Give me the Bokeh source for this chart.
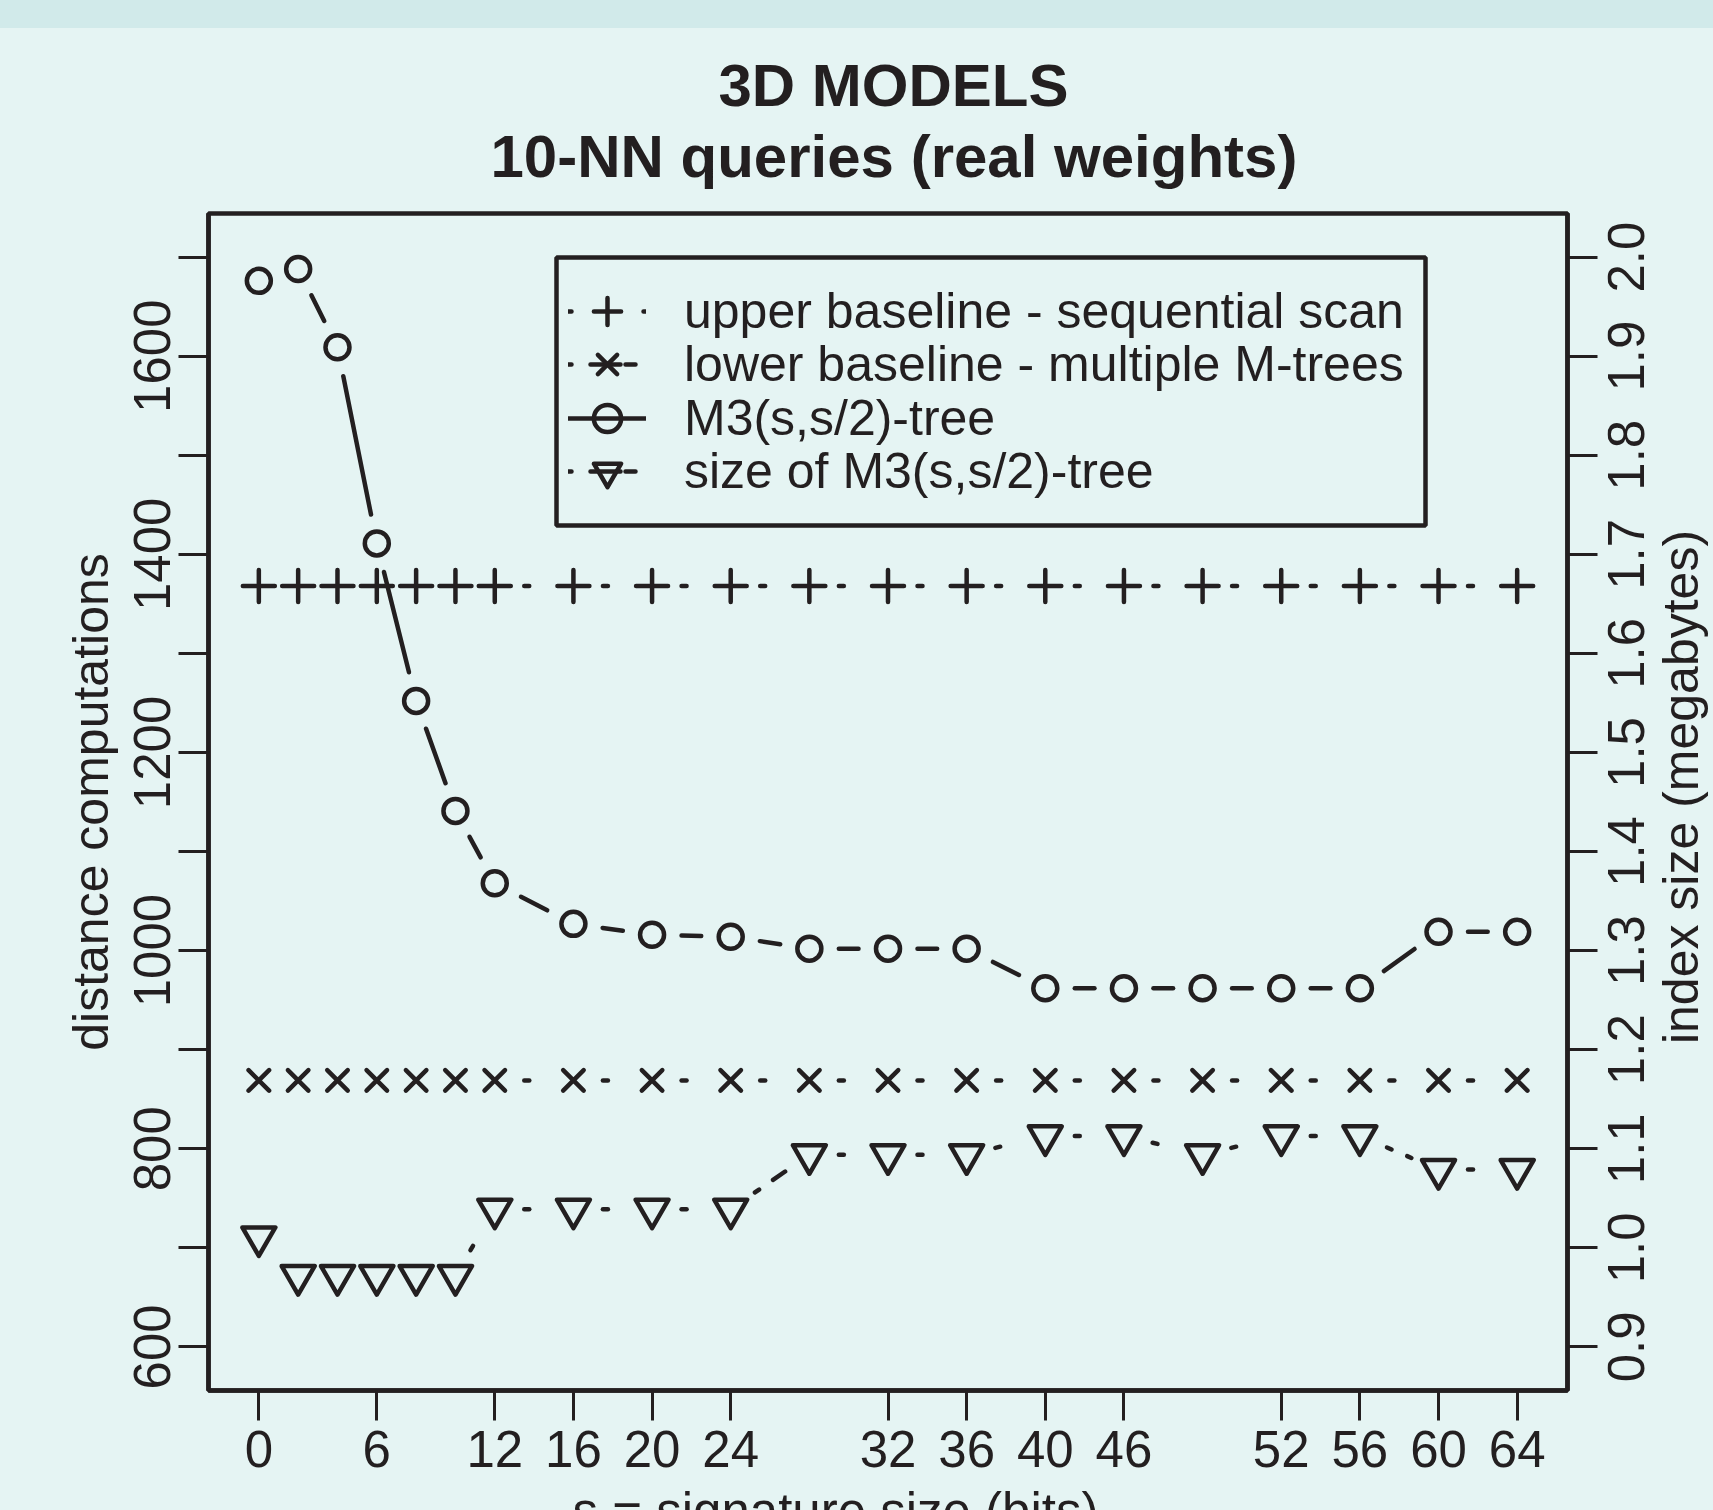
import math
from bokeh.plotting import figure
from bokeh.models import (Range1d, LinearAxis, FixedTicker, Legend, LegendItem, Title,
                          Div, ColumnDataSource, BoxAnnotation, CustomJSTickFormatter)
from bokeh.layouts import column, row
from bokeh.embed import file_html
from bokeh.resources import INLINE

# ---------------- data ----------------
s_bits = [0, 2, 4, 6, 8, 10, 12, 16, 20, 24, 28, 32, 36, 40, 44, 48, 52, 56, 60, 64]
upper_baseline = [1368, 1368, 1368, 1368, 1368, 1368, 1368, 1368, 1368, 1368,
                  1368, 1368, 1368, 1368, 1368, 1368, 1368, 1368, 1368, 1368]
lower_baseline = [869, 869, 869, 869, 869, 869, 869, 869, 869, 869,
                  869, 869, 869, 869, 869, 869, 869, 869, 869, 869]
m3_tree = [1676, 1688, 1609, 1411, 1252, 1141, 1068, 1027, 1016, 1014,
           1002, 1002, 1002, 962, 962, 962, 962, 962, 1019, 1019]
size_mb = [1.011, 0.972, 0.972, 0.972, 0.972, 0.972, 1.039, 1.039, 1.039, 1.039,
           1.094, 1.094, 1.094, 1.113, 1.113, 1.094, 1.113, 1.113, 1.079, 1.079]

x_ticks = [0, 6, 12, 16, 20, 24, 32, 36, 40, 44, 52, 56, 60, 64]
x_tick_labels = {44: "46"}
left_ticks = [600, 700, 800, 900, 1000, 1100, 1200, 1300, 1400, 1500, 1600, 1700]
left_labelled = [600, 800, 1000, 1200, 1400, 1600]
right_ticks = [0.9, 1.0, 1.1, 1.2, 1.3, 1.4, 1.5, 1.6, 1.7, 1.8, 1.9, 2.0]
right_tick_labels = ["0.9", "1.0", "1.1", "1.2", "1.3", "1.4", "1.5", "1.6", "1.7", "1.8", "1.9", "2.0"]

title_lines = ["3D MODELS", "10-NN queries (real weights)"]
x_title = "s = signature size (bits)"
y_title = "distance computations"
y2_title = "index size (megabytes)"
legend_labels = ["upper baseline - sequential scan",
                 "lower baseline - multiple M-trees",
                 "M3(s,s/2)-tree",
                 "size of M3(s,s/2)-tree"]

# ---------------- style ----------------
INK = "#231f20"
BG = "#e5f4f3"
BAND = "#d1eaea"
FONT = "Liberation Sans"
LW = 4.5
FS = "51px"

PAGE_W = 1713
BAND_H = 28
BOTTOM_H = 22
MAIN_H = 1510 - BAND_H - BOTTOM_H      # 1460
ML, MT, MB, MR = 208, 185, 98, 40
FRAME_W, FRAME_H = 1359, MAIN_H - MT - MB
MAIN_W = ML + FRAME_W + MR
STRIP_W = PAGE_W - MAIN_W

X0, X1 = -2.56, 66.56
Y0, Y1 = 556, 1744
R0, R1 = 0.856, 2.044

UX = FRAME_W / (X1 - X0)
UY = FRAME_H / (Y1 - Y0)
UR = FRAME_H / (R1 - R0)
GAP = 29.5  # px gap left around points (R type="b")


def broken(xs, ys, ux, uy, gap):
    out = dict(x0=[], y0=[], x1=[], y1=[])
    for xa, ya, xb, yb in zip(xs[:-1], ys[:-1], xs[1:], ys[1:]):
        d = math.hypot((xb - xa) * ux, (yb - ya) * uy)
        if d <= 0:
            continue
        f = gap / d
        if f < 0.5:
            out["x0"].append(xa + f * (xb - xa))
            out["y0"].append(ya + f * (yb - ya))
            out["x1"].append(xb - f * (xb - xa))
            out["y1"].append(yb - f * (yb - ya))
    return ColumnDataSource(out)


size_range = Range1d(R0, R1)

p = figure(width=MAIN_W, height=MAIN_H, output_backend="svg", toolbar_location=None,
           x_range=Range1d(X0, X1), y_range=Range1d(Y0, Y1),
           min_border_left=ML, min_border_right=MR, min_border_top=MT, min_border_bottom=MB,
           background_fill_color=BG, border_fill_color=BG)
p.extra_y_ranges = {"size": size_range}
p.xgrid.visible = False
p.ygrid.visible = False
p.outline_line_color = INK
p.outline_line_width = LW


def style_axis(ax, ticks):
    ax.ticker = FixedTicker(ticks=ticks)
    ax.minor_tick_line_color = None
    ax.major_tick_in = 0
    ax.major_tick_out = 30
    ax.major_tick_line_width = 3
    ax.major_tick_line_color = INK
    ax.axis_line_color = INK
    ax.axis_line_width = LW
    ax.major_label_text_font = FONT
    ax.major_label_text_font_size = FS
    ax.major_label_text_color = INK


xa = p.xaxis[0]
style_axis(xa, x_ticks)
xa.major_label_overrides = x_tick_labels
xa.major_label_standoff = 10

ya = p.yaxis[0]
style_axis(ya, left_ticks)
ya.major_label_overrides = {t: (str(t) if t in left_labelled else "") for t in left_ticks}
ya.major_label_orientation = "parallel"
ya.major_label_standoff = 8
ya.axis_label = y_title
ya.axis_label_text_font = FONT
ya.axis_label_text_font_size = "50px"
ya.axis_label_text_font_style = "normal"
ya.axis_label_text_color = INK
ya.axis_label_standoff = 13

ra = LinearAxis(y_range_name="size", formatter=CustomJSTickFormatter(code="return ''"))
style_axis(ra, right_ticks)
ra.major_label_text_font_size = "1px"
ra.major_label_standoff = 0
p.add_layout(ra, "right")

# titles (first added sits nearest the frame); left-aligned with offsets from the frame edge
p.add_layout(Title(text=title_lines[1], align="left", offset=282, standoff=47,
                   text_font=FONT, text_font_size="60px", text_font_style="bold",
                   text_color=INK), "above")
p.add_layout(Title(text=title_lines[0], align="left", offset=510, standoff=-43,
                   text_font=FONT, text_font_size="60px", text_font_style="bold",
                   text_color=INK), "above")

# series
DASH = "5 17 20 17"
common = dict(line_color=INK, line_width=LW, line_cap="round")
p.segment("x0", "y0", "x1", "y1", source=broken(s_bits, upper_baseline, UX, UY, GAP),
          line_dash=DASH, **common)
p.segment("x0", "y0", "x1", "y1", source=broken(s_bits, lower_baseline, UX, UY, GAP),
          line_dash=DASH, **common)
p.segment("x0", "y0", "x1", "y1", source=broken(s_bits, m3_tree, UX, UY, GAP), **common)
p.segment("x0", "y0", "x1", "y1", source=broken(s_bits, size_mb, UX, UR, GAP),
          line_dash=DASH, y_range_name="size", **common)

mk_up = p.scatter(s_bits, upper_baseline, marker="cross", size=32, fill_color=None, **common)
mk_lo = p.scatter(s_bits, lower_baseline, marker="x", size=29, fill_color=None, **common)
mk_m3 = p.scatter(s_bits, m3_tree, marker="circle", size=24, fill_color=None, **common)
mk_sz = p.scatter(s_bits, size_mb, marker="inverted_triangle", size=33, fill_color=None,
                  line_join="round", y_range_name="size", **common)

# legend-only line samples (no visible data)
NAN = [float("nan")]
lg_up = p.line(NAN, NAN, line_dash="3 72 3 100", **common)
lg_lo = p.line(NAN, NAN, line_dash="3 19 30 5 10 100", **common)
lg_m3 = p.line(NAN, NAN, **common)
lg_sz = p.line(NAN, NAN, line_dash="3 19 30 5 10 100", **common)

# legend box
p.add_layout(BoxAnnotation(left=348, right=1217, top=1133, bottom=865,
                           left_units="screen", right_units="screen",
                           top_units="screen", bottom_units="screen",
                           fill_color=BG, fill_alpha=1.0, line_color=INK, line_width=LW,
                           line_alpha=1.0))

row_bottoms = [1045, 992, 938, 885]
for lbl, rends, yb in zip(legend_labels,
                          [[lg_up, mk_up], [lg_lo, mk_lo], [lg_m3, mk_m3], [lg_sz, mk_sz]],
                          row_bottoms):
    p.add_layout(Legend(items=[LegendItem(label=lbl, renderers=rends)],
                        location=(360, yb), padding=0, margin=0,
                        glyph_width=78, glyph_height=68, spacing=0, label_standoff=38,
                        label_text_font=FONT, label_text_font_size="50px",
                        label_text_color=INK, border_line_color=None,
                        background_fill_alpha=0.0))

# right strip: right-axis tick labels and title (reading upwards)
pr = figure(width=STRIP_W, height=MAIN_H, output_backend="svg", toolbar_location=None,
            x_range=Range1d(0, STRIP_W), y_range=size_range,
            min_border_left=0, min_border_right=0, min_border_top=MT, min_border_bottom=MB,
            x_axis_location=None, y_axis_location=None,
            background_fill_color=BG, border_fill_color=BG, outline_line_color=None)
pr.xgrid.visible = False
pr.ygrid.visible = False
pr.text(x=[18] * len(right_ticks), y=right_ticks, text=right_tick_labels,
        angle=math.pi / 2, text_align="center", text_baseline="middle",
        text_font={"value": FONT}, text_font_size=FS, text_color=INK)
pr.text(x=[73], y=[(R0 + R1) / 2 + 15 / UR], text=[y2_title],
        angle=math.pi / 2, text_align="center", text_baseline="middle",
        text_font={"value": FONT}, text_font_size="50px", text_color=INK)

# bottom strip: x-axis title (cut by the page edge as in the reference)
pb = figure(width=PAGE_W, height=BOTTOM_H, output_backend="svg", toolbar_location=None,
            x_range=Range1d(0, PAGE_W), y_range=Range1d(0, BOTTOM_H),
            min_border_left=0, min_border_right=0, min_border_top=0, min_border_bottom=0,
            x_axis_location=None, y_axis_location=None,
            background_fill_color=BG, border_fill_color=BG, outline_line_color=None)
pb.xgrid.visible = False
pb.ygrid.visible = False
pb.text(x=[835], y=[-1], text=[x_title], text_align="center", text_baseline="alphabetic",
        text_font={"value": FONT}, text_font_size=FS, text_color=INK)

band = Div(text="", width=PAGE_W, height=BAND_H, margin=0,
           styles={"background-color": BAND})
layout = column(band, row(p, pr, spacing=0, styles={"background-color": BG}), pb,
                spacing=0, styles={"background-color": BG})

open("out.html", "w").write(file_html(layout, INLINE))
